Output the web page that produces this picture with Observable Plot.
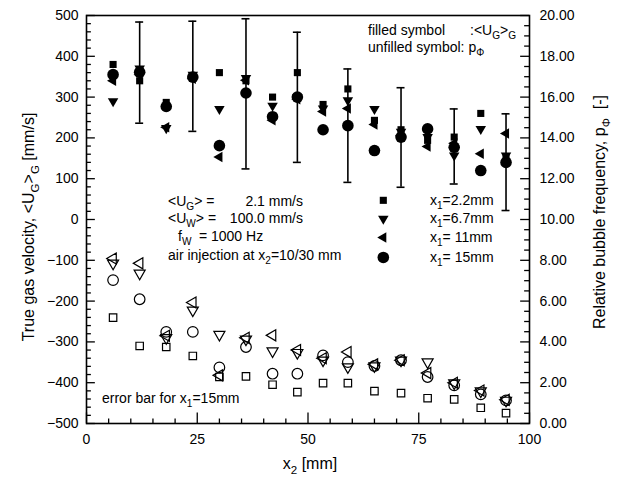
<!DOCTYPE html>
<html><head><meta charset="utf-8">
<script src="https://cdn.jsdelivr.net/npm/d3@7"></script>
<script src="https://cdn.jsdelivr.net/npm/@observablehq/plot@0.6"></script>
<style>
body{margin:0;background:#fff;}
#chart svg{display:block;font-family:"Liberation Sans", Arial, Helvetica, sans-serif;}
</style></head><body><div id="chart"></div>
<script>
// ---- data ----
const x2 = [6, 12, 18, 24, 30, 36, 42, 47.6, 53.4, 59, 65, 71, 77, 83, 89, 94.7];
// filled symbols: <U_G>_G [mm/s]
const ug22 = [380, 340, 287, 352, 360, 340, 300, 360, 282, 320, 243, 220, 194, 202, 260, 152];
const ug67 = [290, 370, 224, 355, 271, 347, 279, 300, 272, 292, 271, 215, 202, 157, 222, 157];
const ug11 = [340, 355, 226, 345, 153, 341, 243, 295, 265, 272, 233, 205, 179, 187, 161, 211];
const ug15 = [355, 361, 277, 349, 181, 310, 252, 300, 220, 230, 169, 202, 222, 177, 120, 140];
// error bars for x1 = 15mm
const errIdx = [1, 3, 5, 7, 9, 11, 13, 15];
const errLo = [236, 216, 124, 140, 91, 79, 87, 22];
const errHi = [484, 486, 492, 459, 369, 323, 271, 259];
// unfilled symbols: p_phi [-]
const p22 = [5.19, 3.80, 3.75, 3.31, 2.28, 2.31, 1.90, 1.54, 1.98, 1.98, 1.59, 1.49, 1.24, 1.18, 0.77, 0.51];
const p67 = [7.85, 7.36, 4.20, 5.55, 4.36, 4.13, 3.55, 3.47, 3.10, 2.77, 2.82, 3.10, 3.01, 1.98, 1.59, 1.13];
const p11 = [8.09, 7.85, 4.30, 5.93, 2.36, 4.20, 4.32, 3.60, 3.20, 3.50, 2.90, 3.10, 2.47, 2.00, 1.62, 1.16];
const p15 = [7.03, 6.09, 4.49, 4.49, 2.75, 3.75, 2.44, 2.44, 3.34, 3.01, 2.82, 3.10, 2.28, 1.87, 1.43, 1.13];
// ticks
const xTickLabels = [0, 25, 50, 75, 100];
const yTickLabels = [500, 400, 300, 200, 100, 0, -100, -200, -300, -400, -500];
const pTickLabels = [0, 2, 4, 6, 8, 10, 12, 14, 16, 18, 20];

const FONT = '"Liberation Sans", Arial, Helvetica, sans-serif';
const toV = p => p * 50 - 500; // right axis (0..20) mapped onto left axis (-500..500)

const rows = x2.map((x, i) => ({x, ug22: ug22[i], ug67: ug67[i], ug11: ug11[i], ug15: ug15[i],
  p22: toV(p22[i]), p67: toV(p67[i]), p11: toV(p11[i]), p15: toV(p15[i])}));
const errRows = errIdx.map((i, k) => ({x: x2[i], lo: errLo[k], hi: errHi[k]}));

// tick positions (integer steps to avoid float drift)
const xMinor = d3.range(0, 21).map(i => ({v: i * 5, major: i % 5 === 0}));
const yMinor = d3.range(0, 51).map(i => ({v: -500 + i * 20, major: i % 5 === 0}));
const pMinor = d3.range(0, 41).map(i => ({v: i * 0.5, major: i % 4 === 0}));

const filled = {fill: "black", stroke: "none"};
const open = {fill: "none", stroke: "black", strokeWidth: 1.2};

const plot = Plot.plot({
  width: 622, height: 478,
  marginLeft: 86, marginRight: 93, marginTop: 15, marginBottom: 55,
  x: {domain: [0, 100], label: null, axis: null},
  y: {domain: [-500, 500], label: null, axis: null},
  marks: [
    Plot.frame({stroke: "black", strokeWidth: 1.6}),
    // inward ticks
    Plot.ruleY(yMinor, {y: "v", x1: d => 0, x2: d => d.major ? 2.0 : 1.1, stroke: "black", strokeWidth: 1.3}),
    Plot.ruleY(pMinor, {y: d => toV(d.v), x1: d => d.major ? 98.0 : 98.9, x2: d => 100, stroke: "black", strokeWidth: 1.3}),
    Plot.ruleX(xMinor, {x: "v", y1: d => -500, y2: d => d.major ? -474 : -489, stroke: "black", strokeWidth: 1.3}),
    // tick labels
    Plot.axisY(yTickLabels, {tickSize: 0, tickPadding: 8, label: null, fontSize: 14}),
    Plot.axisY(pTickLabels.map(toV), {anchor: "right", tickSize: 0, tickPadding: 10, label: null, fontSize: 14,
      tickFormat: v => ((v + 500) / 50).toFixed(2)}),
    Plot.axisX(xTickLabels, {tickSize: 0, tickPadding: 11, label: null, fontSize: 14}),
    // error bars
    Plot.ruleX(errRows, {x: "x", y1: "lo", y2: "hi", stroke: "black", strokeWidth: 1.6}),
    Plot.ruleY(errRows, {y: "lo", x1: d => d.x - 0.9, x2: d => d.x + 0.9, stroke: "black", strokeWidth: 1.6}),
    Plot.ruleY(errRows, {y: "hi", x1: d => d.x - 0.9, x2: d => d.x + 0.9, stroke: "black", strokeWidth: 1.6}),
    // filled symbols (<U_G>_G)
    Plot.dot(rows, {x: "x", y: "ug22", symbol: "square", r: 4, ...filled}),
    Plot.dot(rows, {x: "x", y: "ug67", symbol: "triangle", rotate: 180, r: 3.9, ...filled}),
    Plot.dot(rows, {x: "x", y: "ug11", symbol: "triangle", rotate: -90, r: 3.9, ...filled}),
    Plot.dot(rows, {x: "x", y: "ug15", symbol: "circle", r: 5.8, ...filled}),
    // unfilled symbols (p_phi)
    Plot.dot(rows, {x: "x", y: "p22", symbol: "square", r: 4.2, ...open}),
    Plot.dot(rows, {x: "x", y: "p67", symbol: "triangle", rotate: 180, r: 4.1, ...open}),
    Plot.dot(rows, {x: "x", y: "p11", symbol: "triangle", rotate: -90, r: 4.1, ...open}),
    Plot.dot(rows, {x: "x", y: "p15", symbol: "circle", r: 5.3, ...open}),
    // legend keys
    Plot.dot([47], {x: 67, y: d => d, symbol: "square", r: 4, ...filled}),
    Plot.dot([2], {x: 67, y: d => d, symbol: "triangle", rotate: 180, r: 3.9, ...filled}),
    Plot.dot([-44], {x: 67, y: d => d, symbol: "triangle", rotate: -90, r: 3.9, ...filled}),
    Plot.dot([-93], {x: 67, y: d => d, symbol: "circle", r: 5.8, ...filled})
  ]
});
document.getElementById("chart").appendChild(plot);

const svg = d3.select(plot);
function rich(x, y, parts, opts = {}) {
  const size = opts.size || 14;
  const t = svg.append("text").attr("x", x).attr("y", y)
    .attr("font-family", FONT).attr("font-size", size).attr("fill", "black")
    .attr("text-anchor", opts.anchor || "start")
    .style("white-space", "pre");
  if (opts.rotate) t.attr("transform", `rotate(${opts.rotate},${x},${y})`);
  let shift = 0;
  parts.forEach(p => {
    const s = typeof p === "string" ? {t: p} : p;
    const ts = t.append("tspan").text(s.t);
    const target = s.sub ? size * 0.3 : 0;
    if (target !== shift) { ts.attr("dy", target - shift); shift = target; }
    if (s.sub) ts.attr("font-size", size * 0.72);
  });
  return t;
}
const S = t => ({t, sub: true});

rich(368, 35, ["filled symbol"]);
rich(470, 35, [":<U", S("G"), ">", S("G")]);
rich(368, 52, ["unfilled symbol: p", S("Φ")]);
rich(168, 206, ["<U", S("G"), "> ="]);
rich(303, 206, ["2.1 mm/s"], {anchor: "end"});
rich(168, 223, ["<U", S("W"), "> ="]);
rich(303, 223, ["100.0 mm/s"], {anchor: "end"});
rich(178, 241, ["f", S("W")]);
rich(199, 241, ["="]);
rich(211, 241, ["1000 Hz"]);
rich(168, 260, ["air injection at x", S("2"), "=10/30 mm"]);
rich(430, 205, ["x", S("1"), "=2.2mm"]);
rich(430, 223, ["x", S("1"), "=6.7mm"]);
rich(430, 242, ["x", S("1"), "= 11mm"]);
rich(430, 262, ["x", S("1"), "= 15mm"]);
rich(102, 403, ["error bar for x", S("1"), "=15mm"]);
rich(310, 469, ["x", S("2"), " [mm]"], {anchor: "middle", size: 16});
rich(34, 227, ["True gas velocity, <U", S("G"), ">", S("G"), " [mm/s]"], {anchor: "middle", size: 16, rotate: -90});
rich(605, 212, ["Relative bubble frequency, p", S("Φ"), "  [-]"], {anchor: "middle", size: 16, rotate: -90});
</script></body></html>
